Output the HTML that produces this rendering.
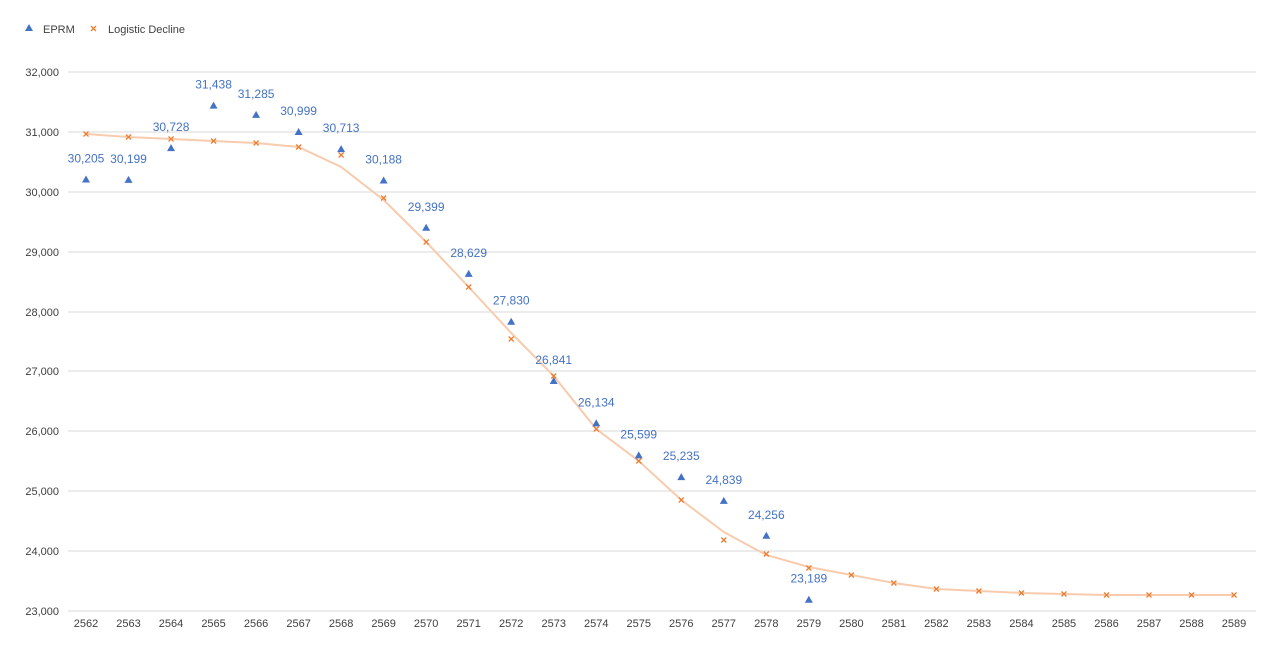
<!DOCTYPE html>
<html><head><meta charset="utf-8"><style>
body{margin:0;background:#fff;}
svg text{font-family:"Liberation Sans",sans-serif;}
</style></head><body>
<svg width="1280" height="657" xmlns="http://www.w3.org/2000/svg">
<rect width="1280" height="657" fill="#fff"/>
<g stroke="#d9d9d9" stroke-width="1">
<line x1="68" y1="72" x2="1256" y2="72"/>
<line x1="68" y1="132" x2="1256" y2="132"/>
<line x1="68" y1="192" x2="1256" y2="192"/>
<line x1="68" y1="252" x2="1256" y2="252"/>
<line x1="68" y1="312" x2="1256" y2="312"/>
<line x1="68" y1="371" x2="1256" y2="371"/>
<line x1="68" y1="431" x2="1256" y2="431"/>
<line x1="68" y1="491" x2="1256" y2="491"/>
<line x1="68" y1="551" x2="1256" y2="551"/>
<line x1="68" y1="611" x2="1256" y2="611"/>
</g>
<g font-size="11" fill="#404040" text-anchor="end">
<text x="59" y="76">32,000</text><text x="59" y="136">31,000</text><text x="59" y="196">30,000</text>
<text x="59" y="256">29,000</text><text x="59" y="316">28,000</text><text x="59" y="375">27,000</text>
<text x="59" y="435">26,000</text><text x="59" y="495">25,000</text><text x="59" y="555">24,000</text>
<text x="59" y="615">23,000</text>
</g>
<g id="xl" font-size="11" fill="#404040" text-anchor="middle"></g>
<polyline fill="none" stroke="#f8cbad" stroke-width="2" points="" id="tl"/>
<g id="pts"></g>
<g font-size="11" fill="#404040">
<polygon points="29,24 33,31 25,31" fill="#4472c4"/>
<path d="M91,26 L96,31 M96,26 L91,31" stroke="#ed7d31" stroke-width="1.3"/>
<text x="43" y="33">EPRM</text>
<text x="108" y="33">Logistic Decline</text>
</g>
</svg>
<script>
var ns="http://www.w3.org/2000/svg";
function X(i){return 86+i*42.52;}
function Y(v){return 72+(32000-v)*0.05989;}
var xl=document.getElementById('xl');
for(var i=0;i<28;i++){var t=document.createElementNS(ns,'text');t.setAttribute('x',X(i));t.setAttribute('y',627);t.textContent=2562+i;xl.appendChild(t);}
var oy=[134,137,139,141,143,147,155,198,242,287,339,376,429,461,500,540,554,568,575,583,589,591,593,594,595,595,595,595];
var ly=oy.slice();ly[6]=167;ly[15]=532;ly[10]=333;ly[7]=200;ly[16]=555;ly[17]=567;
document.getElementById('tl').setAttribute('points',ly.map(function(y,i){return X(i)+','+y;}).join(' '));
var g=document.getElementById('pts');
var e=[30205,30199,30728,31438,31285,30999,30713,30188,29399,28629,27830,26841,26134,25599,25235,24839,24256,23189];
for(var i=0;i<28;i++){var x=X(i),y=oy[i];
var p=document.createElementNS(ns,'path');p.setAttribute('d','M'+(x-2.5)+','+(y-2.5)+' L'+(x+2.5)+','+(y+2.5)+' M'+(x+2.5)+','+(y-2.5)+' L'+(x-2.5)+','+(y+2.5));p.setAttribute('stroke','#ed7d31');p.setAttribute('stroke-width','1.3');g.appendChild(p);}
for(var i=0;i<e.length;i++){var x=X(i),y=Y(e[i]);
var p=document.createElementNS(ns,'polygon');p.setAttribute('points',x+','+(y-4)+' '+(x+4)+','+(y+3)+' '+(x-4)+','+(y+3));p.setAttribute('fill','#4472c4');g.appendChild(p);
var t=document.createElementNS(ns,'text');t.setAttribute('x',x);t.setAttribute('y',y-17);t.setAttribute('font-size','12');t.setAttribute('fill','#4472c4');t.setAttribute('text-anchor','middle');t.textContent=e[i].toLocaleString('en-US');g.appendChild(t);}
</script>
</body></html>
